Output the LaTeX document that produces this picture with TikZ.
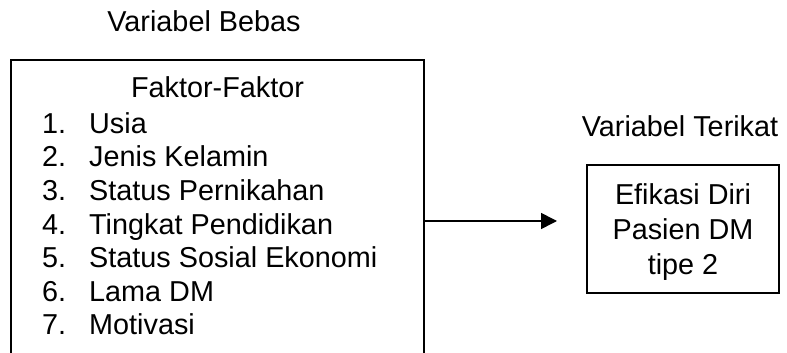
\documentclass[tikz,border=0pt]{standalone}
\usepackage{fontspec}
\setmainfont{Liberation Sans}
\usepackage{tikz}
\usetikzlibrary{arrows.meta}

\tikzset{
  lbl/.style={font=\fontsize{28.8}{33.6}\selectfont, inner sep=0pt, anchor=base},
  item/.style={lbl, anchor=base west},
  frame/.style={draw, line width=1.2pt}
}

\begin{document}
\begin{tikzpicture}[x=1pt, y=1pt]
    \useasboundingbox (0,0) rectangle (787,353);

    % Left box (open at the bottom)
    \draw[frame] (11,-2) -- (11,293) -- (424,293) -- (424,-2);
    \coordinate (lright) at (424,132);

    \node[lbl] (bebas) at (204,321) {Variabel Bebas};
    \node[lbl] (faktor) at (217.5,255) {Faktor-Faktor};

    \foreach \i/\t in {1/Usia, 2/Jenis Kelamin, 3/Status Pernikahan,
                       4/Tingkat Pendidikan, 5/Status Sosial Ekonomi,
                       6/Lama DM, 7/Motivasi} {
        \node[item] (num\i) at (42,253.3-33.6*\i) {\i.};
        \node[item] (item\i) at (89,253.3-33.6*\i) {\t};
    }

    % Right box
    \node[lbl] (terikat) at (680,216) {Variabel Terikat};
    \node[frame, minimum width=192pt, minimum height=128pt, inner sep=0pt] (efikasi) at (683,124) {};
    \node[lbl] (ef1) at (683,148) {Efikasi Diri};
    \node[lbl] (ef2) at (683,113) {Pasien DM};
    \node[lbl] (ef3) at (683,78) {tipe 2};

    \coordinate (tip) at (557,132);
    \draw[line width=1.6pt, -{Triangle[length=16pt, width=16pt]}] (lright) -- (tip);
\end{tikzpicture}
\end{document}
